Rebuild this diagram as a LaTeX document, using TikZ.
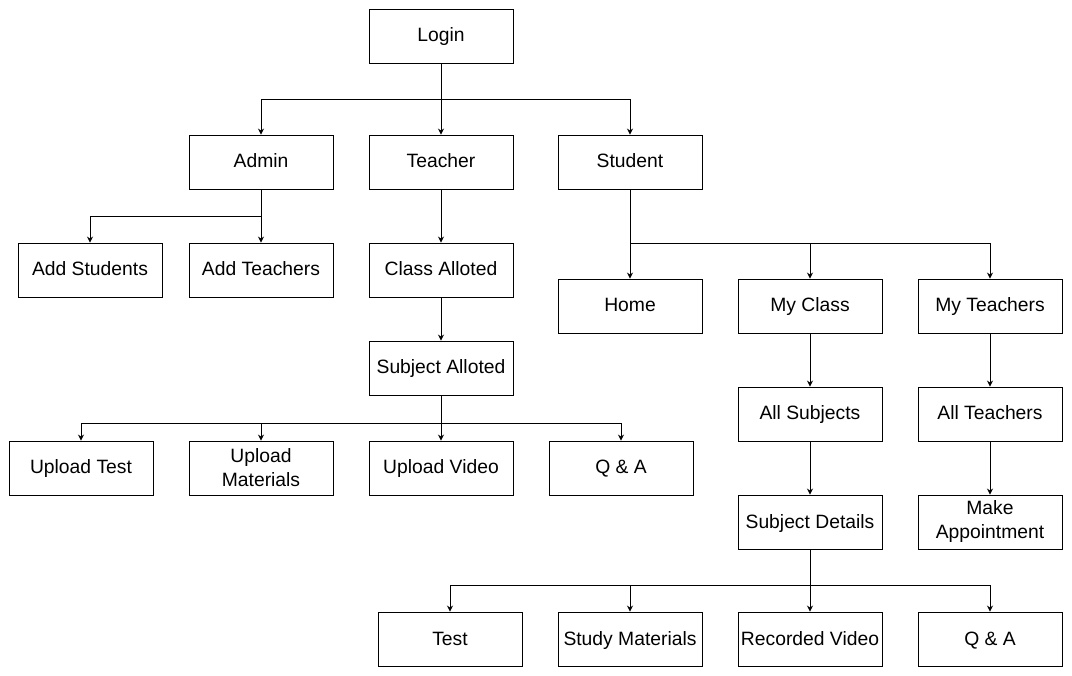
\documentclass[tikz,border=0pt]{standalone}
\usepackage{fontspec}
\setmainfont{Liberation Sans}
\usetikzlibrary{arrows.meta}
\begin{document}
\begin{tikzpicture}[x=1pt,y=-1pt,
  box/.style={draw,line width=0.9pt,minimum width=144pt,minimum height=54pt,inner sep=1pt,align=center,font=\fontsize{19.3}{24}\selectfont},
  one/.style={box,text height=15pt,text depth=3pt},
  arr/.style={line width=0.9pt,-{Stealth[length=6pt,width=6pt,inset=2pt]}}]
\useasboundingbox (0,0) rectangle (1072,676);
\node[one] (login) at (441,36) {Login};
\node[one] (admin) at (261,162) {Admin};
\node[one] (teacher) at (441,162) {Teacher};
\node[one] (student) at (630,162) {Student};
\node[one] (addst) at (90,270) {Add Students};
\node[one] (addte) at (261,270) {Add Teachers};
\node[one] (class) at (441,270) {Class Alloted};
\node[one] (subj) at (441,368) {Subject Alloted};
\node[one] (uptest) at (81,468) {Upload Test};
\node[box] (upmat) at (261,468) {Upload\\Materials};
\node[one] (upvid) at (441,468) {Upload Video};
\node[one] (qa1) at (621,468) {Q \& A};
\node[one] (home) at (630,306) {Home};
\node[one] (myclass) at (810,306) {My Class};
\node[one] (myteach) at (990,306) {My Teachers};
\node[one] (allsub) at (810,414) {All Subjects};
\node[one] (allteach) at (990,414) {All Teachers};
\node[one] (subdet) at (810,522) {Subject Details};
\node[box] (appt) at (990,522) {Make\\Appointment};
\node[one] (test) at (450,639) {Test};
\node[one] (study) at (630,639) {Study Materials};
\node[one] (recvid) at (810,639) {Recorded Video};
\node[one] (qa2) at (990,639) {Q \& A};
% Login
\coordinate (j1) at (441,99);
\draw[arr] (login.south) -- (teacher.north);
\draw[arr] (j1) -| (admin.north);
\draw[arr] (j1) -| (student.north);
% Admin
\coordinate (j2) at (261,216);
\draw[arr] (admin.south) -- (addte.north);
\draw[arr] (j2) -| (addst.north);
% Teacher
\draw[arr] (teacher.south) -- (class.north);
\draw[arr] (class.south) -- (subj.north);
\coordinate (j3) at (441,423);
\draw[arr] (subj.south) -- (upvid.north);
\draw[arr] (j3) -| (uptest.north);
\draw[arr] (j3) -| (upmat.north);
\draw[arr] (j3) -| (qa1.north);
% Student
\coordinate (j4) at (630,243);
\draw[arr] (student.south) -- (home.north);
\draw[arr] (j4) -| (myclass.north);
\draw[arr] (j4) -| (myteach.north);
\draw[arr] (myclass.south) -- (allsub.north);
\draw[arr] (allsub.south) -- (subdet.north);
\draw[arr] (myteach.south) -- (allteach.north);
\draw[arr] (allteach.south) -- (appt.north);
\coordinate (j5) at (810,585);
\draw[arr] (subdet.south) -- (recvid.north);
\draw[arr] (j5) -| (test.north);
\draw[arr] (j5) -| (study.north);
\draw[arr] (j5) -| (qa2.north);
\end{tikzpicture}
\end{document}
